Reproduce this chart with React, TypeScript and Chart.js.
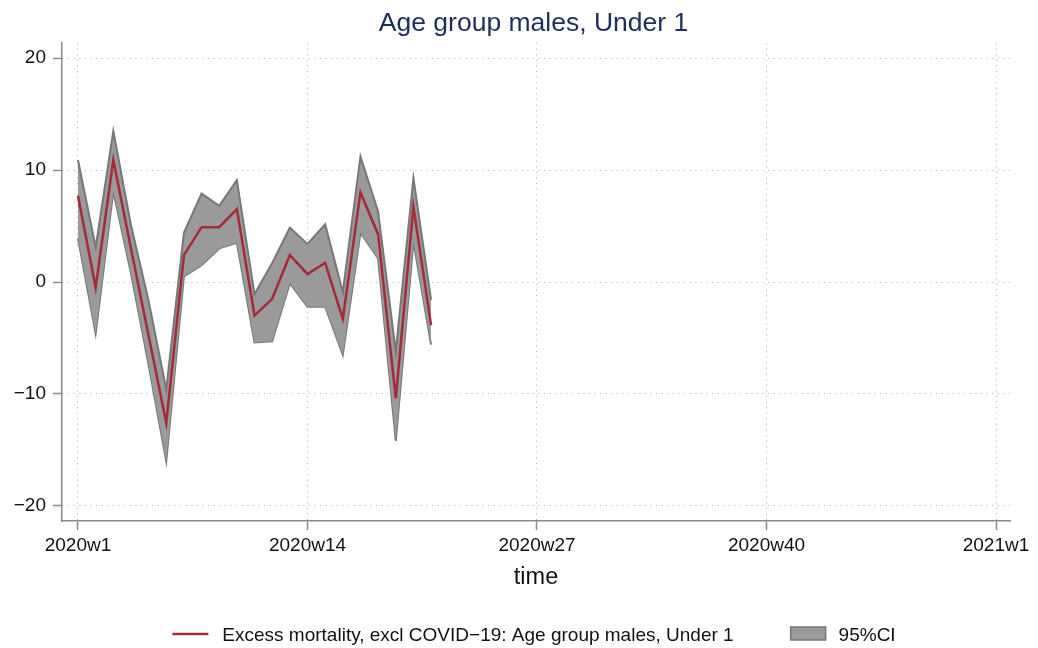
import React, { useEffect, useRef } from "react";
import { Chart, registerables } from "chart.js";

Chart.register(...registerables);

// ---- data (Stata weekly dates, 2020w1 = index 0) ----
const weeks = [1, 2, 3, 4, 5, 6, 7, 8, 9, 10, 11, 12, 13, 14, 15, 16, 17, 18, 19, 20, 21];
const excess = [7.7, -0.5, 10.9, 3.0, -4.8, -12.6, 2.4, 4.9, 4.9, 6.5, -3.0, -1.5, 2.4, 0.7, 1.7, -3.3, 8.0, 4.25, -10.4, 6.7, -3.85];
const ciUpper = [10.9, 3.1, 13.5, 5.1, -1.7, -9.6, 4.4, 7.9, 6.8, 9.1, -1.1, 1.7, 4.85, 3.4, 5.15, -0.9, 11.2, 6.3, -6.2, 9.3, -1.6];
const ciLower = [3.9, -4.6, 8.1, 0.8, -7.4, -16.0, 0.5, 1.5, 3.0, 3.5, -5.4, -5.3, -0.1, -2.2, -2.2, -6.5, 4.4, 2.1, -14.2, 3.6, -5.6];

const xTickValues = [0, 13, 26, 39, 52];
const xTickLabels = ["2020w1", "2020w14", "2020w27", "2020w40", "2021w1"];
const yTickValues = [-20, -10, 0, 10, 20];

const titleText = "Age group males, Under 1";
const xTitleText = "time";
const seriesLabel = "Excess mortality, excl COVID\u221219: Age group males, Under 1";
const ciLabel = "95%CI";

// ---- styles ----
const FONT = "'Liberation Sans', Arial, Helvetica, sans-serif";
const RED = "#a52a3a";
const BAND_FILL = "#9a9a9a";
const BAND_EDGE = "#777777";
const AXIS = "#8a8a8a";
const GRID = "rgba(150,150,150,0.75)";
const TITLE_COLOR = "#1f2d5c";
const TEXT = "#111111";

const W = 1022;
const H = 640;

const overlayPlugin = {
  id: "overlay",
  afterDraw(chart: any) {
    const ctx = chart.ctx as CanvasRenderingContext2D;
    const a = chart.chartArea;
    const cx = (a.left + a.right) / 2;
    ctx.save();
    // title
    ctx.fillStyle = TITLE_COLOR;
    ctx.font = `26.5px ${FONT}`;
    ctx.textAlign = "center";
    ctx.textBaseline = "alphabetic";
    ctx.fillText(titleText, cx - 2.5, 23);
    // x axis title
    ctx.fillStyle = TEXT;
    ctx.font = `23.5px ${FONT}`;
    ctx.fillText(xTitleText, cx, 576);
    // legend
    ctx.font = `19px ${FONT}`;
    ctx.textAlign = "left";
    const w1 = ctx.measureText(seriesLabel).width;
    const w2 = ctx.measureText(ciLabel).width;
    const lineW = 36, gapA = 14, gapB = 57, boxW = 35, gapC = 13;
    const total = lineW + gapA + w1 + gapB + boxW + gapC + w2;
    let x = cx - 2 - total / 2;
    const yMid = 626;
    ctx.strokeStyle = RED;
    ctx.lineWidth = 2.5;
    ctx.beginPath();
    ctx.moveTo(x, yMid);
    ctx.lineTo(x + lineW, yMid);
    ctx.stroke();
    x += lineW + gapA;
    ctx.fillStyle = TEXT;
    ctx.fillText(seriesLabel, x, 633);
    x += w1 + gapB;
    ctx.fillStyle = BAND_FILL;
    ctx.fillRect(x, 619, boxW, 13);
    ctx.strokeStyle = BAND_EDGE;
    ctx.lineWidth = 1.5;
    ctx.strokeRect(x, 619, boxW, 13);
    x += boxW + gapC;
    ctx.fillStyle = TEXT;
    ctx.fillText(ciLabel, x, 633);
    ctx.restore();
  },
};

export default function App() {
  const ref = useRef<HTMLCanvasElement | null>(null);

  useEffect(() => {
    if (!ref.current) return;
    const xs = weeks.map((w) => w - 1);
    const chart = new Chart(ref.current, {
      type: "line",
      data: {
        datasets: [
          {
            label: seriesLabel,
            data: xs.map((x, i) => ({ x, y: excess[i] })),
            borderColor: RED,
            borderWidth: 2.5,
            pointRadius: 0,
            tension: 0,
            fill: false,
          },
          {
            label: "upper",
            data: xs.map((x, i) => ({ x, y: ciUpper[i] })),
            borderColor: BAND_EDGE,
            backgroundColor: BAND_FILL,
            borderWidth: 2,
            pointRadius: 0,
            tension: 0,
            fill: "+1",
          },
          {
            label: "lower",
            data: xs.map((x, i) => ({ x, y: ciLower[i] })),
            borderColor: BAND_EDGE,
            borderWidth: 2,
            pointRadius: 0,
            tension: 0,
            fill: false,
          },
        ],
      },
      options: {
        animation: false,
        responsive: false,
        devicePixelRatio: 1,
        layout: { padding: { top: 35, right: 20, bottom: 0, left: 0 } },
        plugins: {
          legend: { display: false },
          title: { display: false },
          tooltip: { enabled: false },
        },
        scales: {
          x: {
            type: "linear",
            min: -0.906,
            max: 52.793,
            afterBuildTicks: (s: any) => {
              s.ticks = xTickValues.map((v) => ({ value: v }));
            },
            afterFit: (s: any) => {
              s.height = 127;
              s.paddingLeft = 0;
              s.paddingRight = 0;
            },
            ticks: {
              autoSkip: false,
              maxRotation: 0,
              padding: 4,
              color: TEXT,
              font: { family: FONT, size: 19 },
              callback: (v: any) => {
                const i = xTickValues.indexOf(Number(v));
                return i >= 0 ? xTickLabels[i] : "";
              },
            },
            grid: {
              color: GRID,
              lineWidth: 1,
              tickLength: 9,
              tickColor: AXIS,
              tickWidth: 1.5,
              tickBorderDash: [],
            } as any,
            border: { color: AXIS, width: 1.5, dash: [1, 4.6] },
          },
          y: {
            type: "linear",
            min: -21.35,
            max: 21.35,
            afterBuildTicks: (s: any) => {
              s.ticks = yTickValues.map((v) => ({ value: v }));
            },
            afterFit: (s: any) => {
              s.width = 54;
              s.paddingTop = 0;
              s.paddingBottom = 0;
            },
            ticks: {
              padding: 7,
              color: TEXT,
              font: { family: FONT, size: 19 },
              callback: (v: any) => {
                const n = Number(v);
                return n < 0 ? "\u2212" + Math.abs(n) : String(n);
              },
            },
            grid: {
              color: GRID,
              lineWidth: 1,
              tickLength: 9,
              tickColor: AXIS,
              tickWidth: 1.5,
              tickBorderDash: [],
            } as any,
            border: { color: AXIS, width: 1.5, dash: [1, 4.6] },
          },
        },
      },
      plugins: [overlayPlugin],
    });
    return () => chart.destroy();
  }, []);

  return (
    <div style={{ width: W, height: H }}>
      <canvas ref={ref} width={W} height={H} style={{ display: "block", width: W, height: H }} />
    </div>
  );
}
